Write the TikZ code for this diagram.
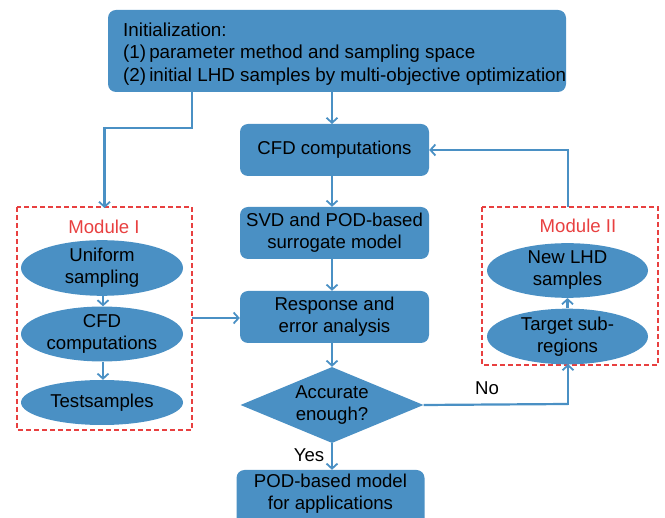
\documentclass[tikz,border=0pt]{standalone}
\usepackage{fontspec}
\setmainfont{Liberation Sans}
\usetikzlibrary{arrows.meta,shapes.geometric}
\definecolor{fblue}{RGB}{74,144,196}
\definecolor{lblue}{RGB}{74,144,196}
\definecolor{mred}{RGB}{232,64,64}
\begin{document}
\begin{tikzpicture}[x=1pt,y=-1pt,
  every node/.style={font=\fontsize{18.6}{22}\selectfont, text=black},
  pbox/.style={draw=none, fill=fblue, rounded corners=8pt, align=center, inner sep=0pt},
  oval/.style={ellipse, fill=fblue, draw=none, align=center, inner sep=0pt},
  mod/.style={draw=mred, line width=1.1pt, dash pattern=on 5pt off 3pt},
  conn/.style={draw=lblue, line width=2.2pt, -{Straight Barb[length=5pt,width=11pt,line width=1.8pt]}},
  plain/.style={draw=lblue, line width=2.2pt}]
\useasboundingbox (0,0) rectangle (665,518);
% top box
\node[pbox, minimum width=458pt, minimum height=82pt] (init) at (337,51) {};
\node[anchor=west, align=left, inner sep=0pt, font=\fontsize{18.8}{22.5}\selectfont] (inittext) at (123,54)
  {Initialization:\\(1)\,parameter method and sampling space\\(2)\,initial LHD samples by multi-objective optimization};
% main column
\node[pbox, minimum width=189pt, minimum height=52pt] (cfd) at (334.5,150) {\raisebox{-1pt}{CFD computations}};
\node[pbox, minimum width=189pt, minimum height=52pt] (svd) at (334.5,233) {SVD and POD-based\\surrogate model};
\node[pbox, minimum width=189pt, minimum height=52pt] (resp) at (334.5,317) {Response and\\error analysis};
\node[diamond, fill=fblue, minimum width=183pt, minimum height=76pt, inner sep=0pt, aspect=2.4, align=center] (acc) at (332,405) {};
\node[align=center] (acctext) at (332,405) {Accurate\\enough?};
\node[pbox, minimum width=188pt, minimum height=56pt] (pod) at (330.5,498) {};
\node[align=center] (podtext) at (330.5,494) {POD-based model\\for applications};
% module I
\draw[mod] (17,207) rectangle (192,430);
\coordinate (m1top) at (104.5,207);
\coordinate (m1right) at (192,318);
\node[text=mred] (m1lab) at (104,227) {Module I};
\node[oval, minimum width=162pt, minimum height=44pt] (us) at (102,268) {Uniform\\sampling};
\node[oval, minimum width=162pt, minimum height=46pt] (cfd2) at (102,334) {CFD\\computations};
\node[oval, minimum width=162pt, minimum height=45pt] (ts) at (102,402.5) {Testsamples};
% module II
\draw[mod] (482,207) rectangle (658,365);
\coordinate (m2top) at (568,207);
\coordinate (m2bot) at (568,365);
\node[text=mred] (m2lab) at (578,226) {Module II};
\node[oval, minimum width=161pt, minimum height=47pt] (lhd) at (567.5,270.5) {New LHD\\samples};
\node[oval, minimum width=161pt, minimum height=45pt] (tgt) at (567.5,336.5) {Target sub-\\regions};
% connectors
\coordinate (s1) at (192,92);
\coordinate (s2) at (332,92);
\draw[plain] (s1) -- (192,128) -- (104.5,128);
\draw[conn] (104.5,127) -- ([yshift=-1pt]m1top);
\draw[conn] (s2) -- (332,124);
\draw[conn] (cfd.south -| 332,0) -- (svd.north -| 332,0);
\draw[conn] (svd.south -| 332,0) -- (resp.north -| 332,0);
\draw[conn] (resp.south -| 332,0) -- (acc.north);
\draw[conn] (acc.south) -- (pod.north -| acc.south);
\node (yes) at (309,455) {Yes};
\draw[plain] (acc.east) -- (568,404) coordinate (nocorner);
\draw[conn] (568,405) -- ([yshift=1pt]m2bot);
\node (no) at (487,388) {No};
\draw[plain] (m2top) -- (568,150) coordinate (c2);
\draw[conn] (569,150) -- (cfd.east);
\draw[conn] (m1right) -- (resp.west |- m1right);
\draw[conn] (us.south -| 103,0) -- (cfd2.north -| 103,0);
\draw[conn] (cfd2.south -| 103,0) -- (ts.north -| 103,0);
\draw[conn] (tgt.north) -- (lhd.south);
\end{tikzpicture}
\end{document}
